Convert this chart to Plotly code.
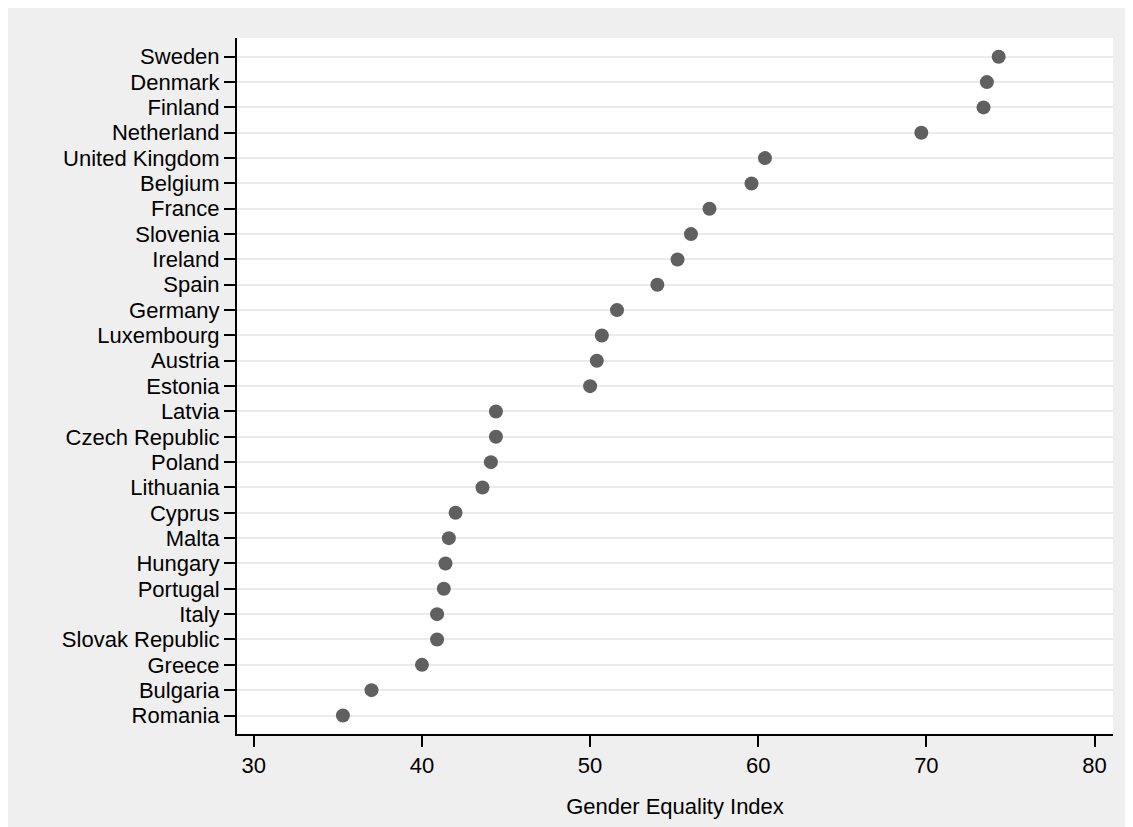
import plotly.graph_objects as go

countries = ["Sweden", "Denmark", "Finland", "Netherland", "United Kingdom", "Belgium",
             "France", "Slovenia", "Ireland", "Spain", "Germany", "Luxembourg", "Austria",
             "Estonia", "Latvia", "Czech Republic", "Poland", "Lithuania", "Cyprus", "Malta",
             "Hungary", "Portugal", "Italy", "Slovak Republic", "Greece", "Bulgaria", "Romania"]
gei = [74.3, 73.6, 73.4, 69.7, 60.4, 59.6,
       57.1, 56.0, 55.2, 54.0, 51.6, 50.7, 50.4,
       50.0, 44.4, 44.4, 44.1, 43.6, 42.0, 41.6,
       41.4, 41.3, 40.9, 40.9, 40.0, 37.0, 35.3]
x_ticks = [30, 40, 50, 60, 70, 80]

FONT = "Arial, Liberation Sans, sans-serif"

fig = go.Figure()
fig.add_trace(go.Scatter(
    x=gei, y=countries, mode="markers",
    marker=dict(size=14, color="#606060", line=dict(width=0)),
    showlegend=False, cliponaxis=False,
))

# page body has an 8px margin; figure is drawn from (8, 8)
W, H = 1125, 819
L, R, T, B = 229, 20, 30, 93

fig.update_layout(
    width=W, height=H,
    margin=dict(l=L, r=R, t=T, b=B, pad=0),
    paper_bgcolor="#EFEFEF", plot_bgcolor="white",
    font=dict(family=FONT, size=22, color="black"),
    xaxis=dict(
        range=[29, 81.1], tickvals=x_ticks, ticks="outside", ticklen=11, tickwidth=2,
        tickcolor="black", showline=True, linewidth=2, linecolor="black",
        showgrid=False, zeroline=False,
        title=dict(text="Gender Equality Index", standoff=21, font=dict(size=22)),
        tickfont=dict(size=22),
    ),
    yaxis=dict(
        type="category", categoryorder="array", categoryarray=countries[::-1],
        tickmode="array", tickvals=countries, ticktext=countries,
        range=[-0.73, 26.74], ticks="outside", ticklen=11, tickwidth=2,
        tickcolor="black", showline=True, linewidth=2, linecolor="black",
        showgrid=True, gridcolor="#EBEBEB", gridwidth=2, zeroline=False,
        tickfont=dict(size=22),
    ),
)

fig.write_html("out.html")
